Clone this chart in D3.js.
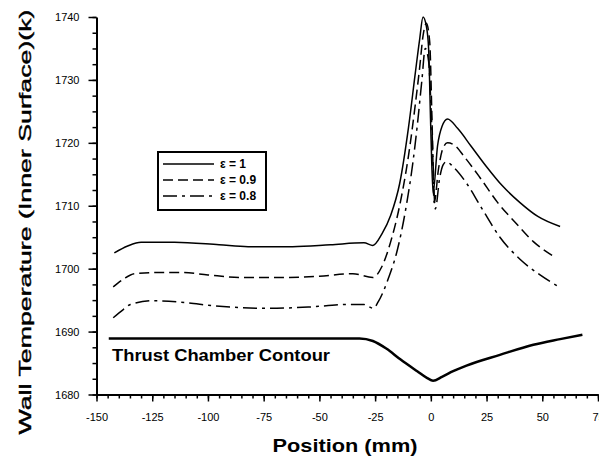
<!DOCTYPE html>
<html>
<head>
<meta charset="utf-8">
<script src="https://cdn.jsdelivr.net/npm/d3@7"></script>
<style>
  body { margin: 0; background: #fff; }
  svg { display: block; font-family: "Liberation Sans", Arial, sans-serif; }
</style>
</head>
<body>
<div id="chart-area"></div>
<script>
// wall temperature along the thrust chamber, three emissivities

var posE1 = [-142, -136, -130, -115, -95, -82, -62, -45, -30, -26, -22, -18, -14, -10, -7, -5, -3.5, -2, -1, 0, 1, 3, 5, 7.5, 12, 18, 25, 32, 40, 48, 58];
var tempE1 = [1702.5, 1703.6, 1704.2, 1704.2, 1703.8, 1703.5, 1703.5, 1703.8, 1704.1, 1703.7, 1705.5, 1708.5, 1713.5, 1722.5, 1731, 1736.5, 1740, 1738.5, 1735, 1722, 1712, 1719.5, 1722.6, 1723.8, 1722.3, 1719.5, 1716.2, 1713.2, 1710.5, 1708.3, 1706.7];

var posE09 = [-142.5, -138, -133, -120, -112, -100, -85, -68, -50, -35, -26, -22, -18, -14, -10, -7, -5, -3.5, -2, -0.5, 0.5, 1.5, 3.5, 5.5, 7.5, 11, 15, 22, 30, 38, 46, 54.5];
var tempE09 = [1697.1, 1698.3, 1699.2, 1699.4, 1699.4, 1699.0, 1698.6, 1698.6, 1698.8, 1699.2, 1698.6, 1700.3, 1704.3, 1710, 1718, 1726, 1732, 1737, 1739, 1736, 1724, 1710.5, 1716, 1719.2, 1720, 1719.5, 1717.8, 1714.5, 1710.5, 1707.3, 1704.3, 1702.1];

var posE08 = [-142.5, -138, -134.8, -124.5, -110, -97.6, -85, -73.4, -55, -37.5, -30, -25.8, -23.5, -19, -15, -11, -8, -6, -4, -2.5, -1, 0.5, 2, 4, 5.5, 7, 10, 16, 23, 31, 40, 49, 58];
var tempE08 = [1692.2, 1693.5, 1694.3, 1694.9, 1694.6, 1694.1, 1693.8, 1693.7, 1693.9, 1694.3, 1694.3, 1693.7, 1694.8, 1698.5, 1703, 1710, 1717, 1723, 1730, 1735, 1733, 1722, 1709.5, 1714.5, 1716.5, 1717, 1716.2, 1713.6, 1709.5, 1705, 1701.5, 1699, 1697];

var posContour = [-144.5, -100, -60, -32, -26, -20, -13.7, -6.1, -1.6, 1, 5, 10, 16, 31, 46, 58, 68];
var tempContour = [1688.9, 1688.9, 1688.9, 1688.9, 1688.5, 1687.3, 1685.6, 1683.7, 1682.6, 1682.2, 1682.8, 1683.7, 1684.6, 1686.3, 1687.9, 1688.8, 1689.5];

var seriesNames = ["\u03b5 = 1", "\u03b5 = 0.9", "\u03b5 = 0.8"];
var xTicks = [-150, -125, -100, -75, -50, -25, 0, 25, 50, 75];
var yTicks = [1680, 1690, 1700, 1710, 1720, 1730, 1740];

var width = 599, height = 458;

var svg = d3.select("#chart-area")
    .append("svg")
        .attr("width", width)
        .attr("height", height);

// Scales
var x = d3.scaleLinear().domain([-150, 75]).range([96.5, 598]);
var y = d3.scaleLinear().domain([1680, 1740]).range([394.5, 17]);

// minor ticks
svg.append("g")
    .attr("transform", "translate(0,394.5)")
    .call(d3.axisBottom(x).tickValues(d3.range(-150, 76, 5)).tickSize(4).tickFormat(""))
    .call(function(g){ g.select(".domain").remove(); g.selectAll("line").attr("stroke-width", 1.5); });

svg.append("g")
    .attr("transform", "translate(96.5,0)")
    .call(d3.axisLeft(y).tickValues(d3.range(1680, 1741, 2.5)).tickSize(4).tickFormat(""))
    .call(function(g){ g.select(".domain").remove(); g.selectAll("line").attr("stroke-width", 1.5); });

// X Axis
var xAxis = svg.append("g")
    .attr("transform", "translate(0,394.5)")
    .call(d3.axisBottom(x).tickValues(xTicks).tickSize(7).tickSizeOuter(0).tickPadding(12)
        .tickFormat(function(d){ return String(d); }));
xAxis.select(".domain").attr("stroke-width", 2);
xAxis.selectAll("line").attr("stroke-width", 1.5);
xAxis.selectAll("text")
    .attr("font-size", "11px")
    .attr("font-family", "Liberation Sans, Arial, sans-serif")
    .attr("fill", "#000");

// Y Axis
var yAxis = svg.append("g")
    .attr("transform", "translate(96.5,0)")
    .call(d3.axisLeft(y).tickValues(yTicks).tickSize(8).tickSizeOuter(0).tickPadding(9)
        .tickFormat(function(d){ return String(d); }));
yAxis.select(".domain").attr("stroke-width", 2);
yAxis.selectAll("line").attr("stroke-width", 1.5);
yAxis.selectAll("text")
    .attr("font-size", "11px")
    .attr("font-family", "Liberation Sans, Arial, sans-serif")
    .attr("fill", "#000");

// X Label
svg.append("text")
    .attr("x", 345)
    .attr("y", 452)
    .attr("font-size", "19px")
    .attr("font-weight", "bold")
    .attr("text-anchor", "middle")
    .attr("textLength", 145)
    .attr("lengthAdjust", "spacingAndGlyphs")
    .text("Position (mm)");

// Y Label
svg.append("text")
    .attr("transform", "translate(31,222) rotate(-90)")
    .attr("font-size", "17px")
    .attr("text-anchor", "middle")
    .attr("textLength", 425)
    .attr("lengthAdjust", "spacingAndGlyphs")
    .attr("stroke", "#000")
    .attr("stroke-width", 0.4)
    .text("Wall Temperature (Inner Surface)(k)");

var line = d3.line()
    .x(function(d){ return x(d[0]); })
    .y(function(d){ return y(d[1]); })
    .curve(d3.curveMonotoneX);

var series = [
    { pos: posE1, temp: tempE1, dash: null },
    { pos: posE09, temp: tempE09, dash: "10,5" },
    { pos: posE08, temp: tempE08, dash: "14,5,3,5" }
];

svg.selectAll(".series")
    .data(series)
    .enter()
    .append("path")
        .attr("class", "series")
        .attr("fill", "none")
        .attr("stroke", "#000")
        .attr("stroke-width", 1.5)
        .attr("stroke-dasharray", function(d){ return d.dash; })
        .attr("d", function(d){ return line(d.pos.map(function(p, i){ return [p, d.temp[i]]; })); });

// Thrust chamber contour
svg.append("path")
    .attr("fill", "none")
    .attr("stroke", "#000")
    .attr("stroke-width", 2.5)
    .attr("d", line(posContour.map(function(p, i){ return [p, tempContour[i]]; })));

svg.append("text")
    .attr("x", 112)
    .attr("y", 361)
    .attr("font-size", "16px")
    .attr("font-weight", "bold")
    .attr("textLength", 218)
    .attr("lengthAdjust", "spacingAndGlyphs")
    .text("Thrust Chamber Contour");

// Legend
var legend = svg.append("g");
legend.append("rect")
    .attr("x", 158)
    .attr("y", 152)
    .attr("width", 108)
    .attr("height", 58)
    .attr("fill", "#fff")
    .attr("stroke", "#000")
    .attr("stroke-width", 2);

var legendY = [164, 180, 196];
series.forEach(function(s, i){
    legend.append("line")
        .attr("x1", 163)
        .attr("x2", 214)
        .attr("y1", legendY[i])
        .attr("y2", legendY[i])
        .attr("stroke", "#000")
        .attr("stroke-width", 1.3)
        .attr("stroke-dasharray", s.dash);
    legend.append("text")
        .attr("x", 220)
        .attr("y", legendY[i] + 4)
        .attr("font-size", "12px")
        .attr("font-weight", "bold")
        .text(seriesNames[i]);
});
</script>
</body>
</html>
